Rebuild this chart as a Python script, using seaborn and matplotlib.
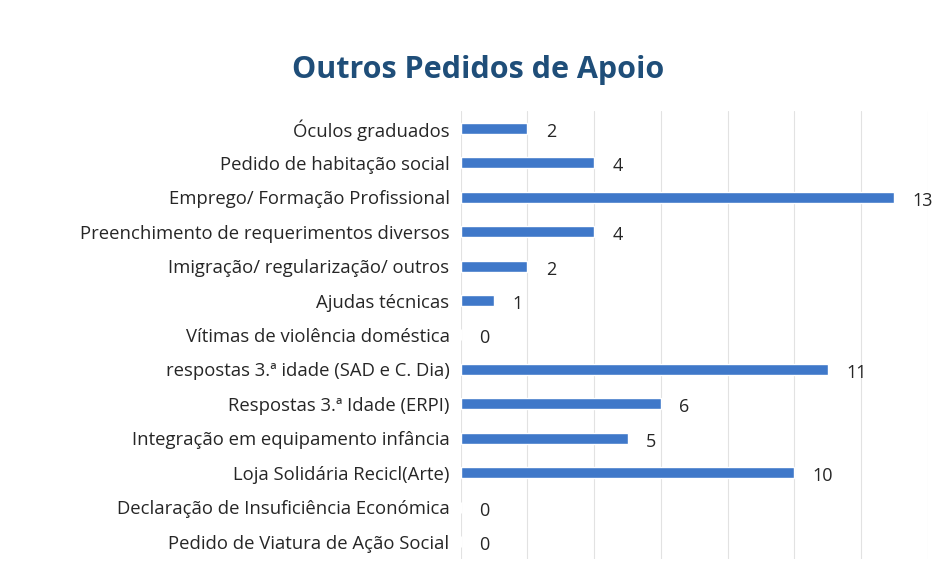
import matplotlib
matplotlib.use("Agg")
import matplotlib.pyplot as plt
import seaborn as sns
import pandas as pd

categories = [
    "Óculos graduados",
    "Pedido de habitação social",
    "Emprego/ Formação Profissional",
    "Preenchimento de requerimentos diversos",
    "Imigração/ regularização/ outros",
    "Ajudas técnicas",
    "Vítimas de violência doméstica",
    "respostas 3.ª idade (SAD e C. Dia)",
    "Respostas 3.ª Idade (ERPI)",
    "Integração em equipamento infância",
    "Loja Solidária Recicl(Arte)",
    "Declaração de Insuficiência Económica",
    "Pedido de Viatura de Ação Social",
]
values = [2, 4, 13, 4, 2, 1, 0, 11, 6, 5, 10, 0, 0]

df = pd.DataFrame({"categoria": categories, "pedidos": values})

sns.set_theme(style="white")
plt.rcParams["font.family"] = ["Open Sans", "DejaVu Sans"]

fig, ax = plt.subplots(figsize=(9.42, 5.79), dpi=100)
fig.subplots_adjust(left=0.489, right=0.985, top=0.808, bottom=0.035)

sns.barplot(data=df, x="pedidos", y="categoria", color="#3F78C9",
            width=0.32, orient="h", ax=ax, saturation=1)

ax.set_xlim(0, 14)
ax.set_xticks(range(0, 15, 2))
ax.set_xticklabels([])
ax.tick_params(axis="x", length=0)
ax.tick_params(axis="y", length=0, labelsize=13.3, labelcolor="#262626", pad=8)
ax.xaxis.grid(True, color="#e2e2e2", linewidth=0.8)
ax.set_axisbelow(True)
for s in ax.spines.values():
    s.set_visible(False)
ax.set_xlabel("")
ax.set_ylabel("")

for i, v in enumerate(values):
    ax.text(v + 0.55, i + 0.1, str(v), va="center", ha="left",
            fontsize=13, color="#262626")

fig.suptitle("Outros Pedidos de Apoio", x=0.508, y=0.905, fontsize=22,
             fontweight="bold", color="#1F4E79")

fig.savefig("out.png", dpi=100)
